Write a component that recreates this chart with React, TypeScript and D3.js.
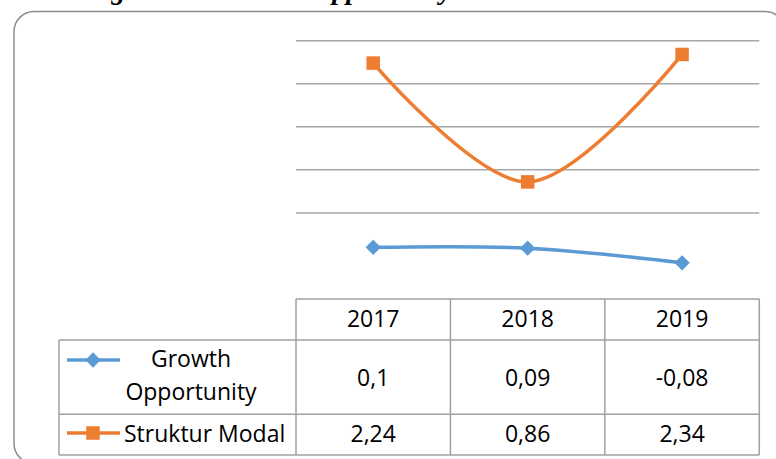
import React from 'react';
import * as d3 from 'd3';

// chart values
const years = ['2017', '2018', '2019'];
const growthValues = [0.1, 0.09, -0.08];
const strukturValues = [2.24, 0.86, 2.34];
const gridTicks = [0.5, 1, 1.5, 2, 2.5];

const BLUE = '#5b9bd5';
const ORANGE = '#ed7d31';
const GRID = '#a6a6a6';
const FONT = '"Open Sans", sans-serif';

const fmt = (v: number) => String(v).replace('.', ',');

const App = () => {
  const width = 776;
  const height = 459;

  const plotLeft = 296;
  const plotRight = 759.3;
  const legendLeft = 59;

  const x = d3.scaleBand<string>().domain(years).range([plotLeft, plotRight]);
  const y = d3.scaleLinear().domain([-0.5, 2.5]).range([299, 40.7]);
  const cx = (d: string) => (x(d) as number) + x.bandwidth() / 2;

  const line = d3
    .line<number>()
    .x((_, i) => cx(years[i]))
    .y((d) => y(d))
    .curve(d3.curveCatmullRom.alpha(0.5));

  // table rows
  const headTop = y(-0.5);
  const headBottom = 340;
  const row1Bottom = 414.3;
  const row2Bottom = 455;
  const cellLine = { stroke: '#a0a0a0', strokeWidth: 1.5 };

  const diamond = d3.symbol(d3.symbolDiamond2, 150)();
  const sq = 13.5;

  return (
    <svg
      width={width}
      height={height}
      style={{ position: 'absolute', left: 0, top: 0, background: '#fff' }}
    >
      {/* title, cut off at the top */}
      <g fontFamily='"Liberation Serif", serif' fontWeight="bold" fontStyle="italic" fontSize={28} fill="#000">
        <text x={155} y={-1} textAnchor="end">Gambar 4.1 Perkembangan</text>
        <text x={218} y={-1}>Growth Opportunity dan Struktur Modal</text>
      </g>

      {/* chart border */}
      <rect x={14} y={11.5} width={771} height={452} rx={20} fill="none" stroke="#8c8c8c" strokeWidth={1.5} />

      {/* gridlines */}
      {gridTicks.map((t) => (
        <line key={t} x1={plotLeft} x2={plotRight} y1={y(t)} y2={y(t)} stroke={GRID} strokeWidth={1.5} />
      ))}

      {/* series */}
      <path d={line(growthValues) || ''} fill="none" stroke={BLUE} strokeWidth={3.5} />
      {growthValues.map((v, i) => (
        <path key={i} d={diamond || ''} transform={`translate(${cx(years[i])},${y(v)})`} fill={BLUE} />
      ))}
      <path d={line(strukturValues) || ''} fill="none" stroke={ORANGE} strokeWidth={3.5} />
      {strukturValues.map((v, i) => (
        <rect key={i} x={cx(years[i]) - sq / 2} y={y(v) - sq / 2} width={sq} height={sq} fill={ORANGE} />
      ))}

      {/* data table */}
      <g>
        <line x1={plotLeft} x2={plotRight} y1={headTop} y2={headTop} {...cellLine} />
        <line x1={legendLeft} x2={plotRight} y1={headBottom} y2={headBottom} {...cellLine} />
        <line x1={legendLeft} x2={plotRight} y1={row1Bottom} y2={row1Bottom} {...cellLine} />
        <line x1={legendLeft} x2={plotRight} y1={row2Bottom} y2={row2Bottom} {...cellLine} />
        <line x1={legendLeft} x2={legendLeft} y1={headBottom} y2={row2Bottom} {...cellLine} />
        {years.map((yr) => (
          <line key={yr} x1={x(yr)} x2={x(yr)} y1={headTop} y2={row2Bottom} {...cellLine} />
        ))}
        <line x1={plotRight} x2={plotRight} y1={headTop} y2={row2Bottom} {...cellLine} />
      </g>

      <g fontFamily={FONT} fontSize={23} fill="#000" textAnchor="middle">
        {years.map((yr) => (
          <text key={yr} x={cx(yr)} y={327}>{yr}</text>
        ))}
        {growthValues.map((v, i) => (
          <text key={i} x={cx(years[i])} y={386}>{fmt(v)}</text>
        ))}
        {strukturValues.map((v, i) => (
          <text key={i} x={cx(years[i])} y={442}>{fmt(v)}</text>
        ))}
        <text x={191} y={367}>Growth</text>
        <text x={191} y={400}>Opportunity</text>
        <text x={124} y={442} textAnchor="start">Struktur Modal</text>
      </g>

      {/* legend keys */}
      <line x1={67} x2={120} y1={360} y2={360} stroke={BLUE} strokeWidth={3.5} />
      <path d={diamond || ''} transform="translate(93,360)" fill={BLUE} />
      <line x1={67} x2={120} y1={433} y2={433} stroke={ORANGE} strokeWidth={3.5} />
      <rect x={93 - sq / 2} y={433 - sq / 2} width={sq} height={sq} fill={ORANGE} />
    </svg>
  );
};

export default App;
